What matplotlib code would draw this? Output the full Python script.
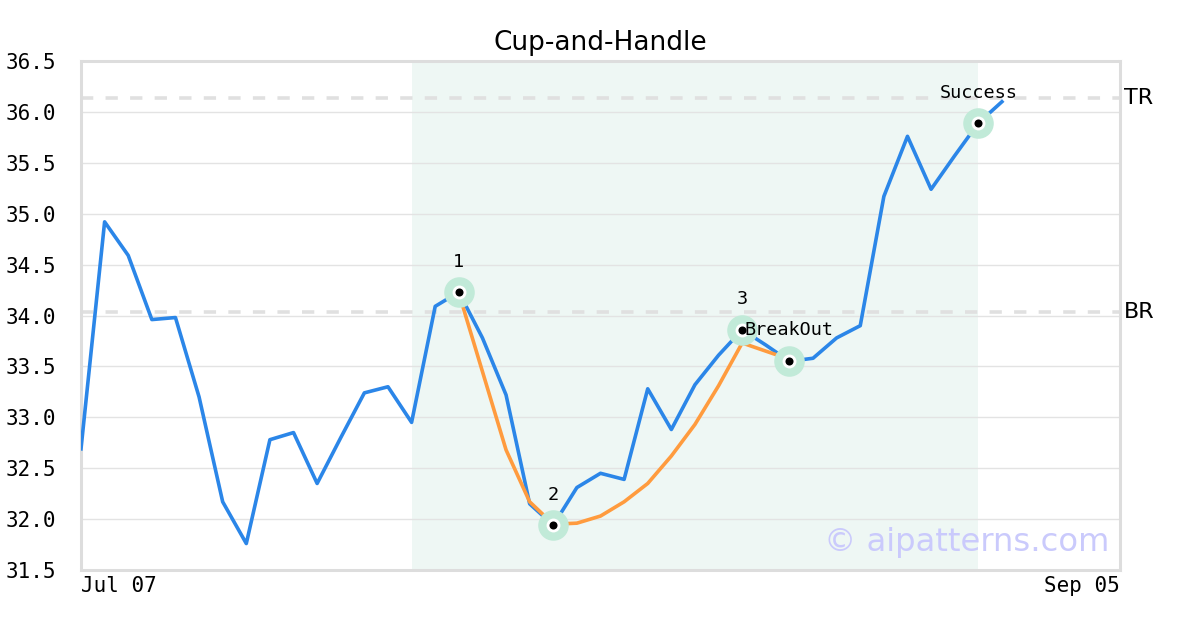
import matplotlib
matplotlib.use("Agg")
import matplotlib.pyplot as plt

# daily closes (trading-day index)
price = [32.69, 34.92, 34.59, 33.96, 33.98, 33.20, 32.17, 31.76, 32.78, 32.85,
         32.35, 32.80, 33.24, 33.30, 32.95, 34.09, 34.23, 33.78, 33.22, 32.15,
         31.94, 32.31, 32.45, 32.39, 33.28, 32.88, 33.32, 33.61, 33.86, 33.71,
         33.55, 33.58, 33.78, 33.90, 35.17, 35.76, 35.24, 35.57, 35.89, 36.10]

# fitted cup curve from point 1 to the breakout
cup_x = list(range(16, 31))
cup_y = [34.22, 33.45, 32.68, 32.17, 31.95, 31.96, 32.03, 32.17, 32.35, 32.62,
         32.93, 33.31, 33.73, 33.65, 33.57]

key_idx = [16, 20, 28, 30, 38]
key_labels = ["1", "2", "3", "", "Success"]

top_res = 36.14
break_res = 34.03
pattern_span = (14, 38)
n_days = 44
x_ticklabels = ["Jul 07", "Sep 05"]
y_ticks = [31.5, 32.0, 32.5, 33.0, 33.5, 34.0, 34.5, 35.0, 35.5, 36.0, 36.5]

blue = "#2b86e8"
orange = "#ff9b3e"
halo = "#c1ead8"
mono = "DejaVu Sans Mono"

fig = plt.figure(figsize=(12, 6.3), dpi=100)
ax = fig.add_axes([81 / 1200, 1 - 570 / 630, (1120 - 81) / 1200, (570 - 61) / 630])

ax.axvspan(pattern_span[0], pattern_span[1], color="#eef7f4", lw=0, zorder=0)
ax.set_yticks(y_ticks)
ax.yaxis.grid(True, color="#e3e3e3", lw=1, zorder=1)
ax.set_axisbelow(True)

for lvl, name in [(top_res, "TR"), (break_res, "BR")]:
    ax.axhline(lvl, color="#e0e0e0", lw=2.6, linestyle=(0, (3.4, 3.4)), zorder=2)
    ax.text(1.004, lvl, name, transform=ax.get_yaxis_transform(),
            fontsize=16, va="center", ha="left")

ax.plot(range(len(price)), price, color=blue, lw=2.6, zorder=3)
ax.plot(cup_x, cup_y, color=orange, lw=2.6, zorder=3)

kx = key_idx
ky = [price[i] for i in key_idx]
ax.plot(kx, ky, "o", ms=22, color=halo, mec="none", zorder=4)
ax.plot(kx, ky, "o", ms=10, color="white", mec="none", zorder=5)
ax.plot(kx, ky, "o", ms=5.8, color="black", mec="none", zorder=6)

for i, lab in zip(kx, key_labels):
    if lab:
        ax.annotate(lab, (i, price[i]), xytext=(0, 22), textcoords="offset points",
                    ha="center", va="center", fontsize=13.3, family=mono, zorder=7)
ax.annotate("BreakOut", (28, price[28]), xytext=(2, 0), textcoords="offset points",
            ha="left", va="center", fontsize=13.3, family=mono, zorder=7)

ax.text(0.990, 0.055, "\u00a9 aipatterns.com", transform=ax.transAxes,
        fontsize=23.2, color="#cacafc", ha="right", va="center", zorder=7)

ax.set_xlim(0, n_days)
ax.set_ylim(31.5, 36.5)
ax.set_xticks([0, n_days])
ax.set_xticklabels(x_ticklabels, family=mono, fontsize=15)
ax.get_xticklabels()[0].set_ha("left")
ax.get_xticklabels()[1].set_ha("right")
ax.set_yticklabels([f"{v:.1f}" for v in y_ticks], family=mono, fontsize=15)
ax.tick_params(axis="y", length=0, pad=18)
ax.tick_params(axis="x", length=0, pad=4)

for s in ax.spines.values():
    s.set_color("#dddddd")
    s.set_linewidth(2.2)

ax.set_title("Cup-and-Handle", fontsize=19, pad=8)

fig.savefig("out.png", dpi=100, facecolor="white")
